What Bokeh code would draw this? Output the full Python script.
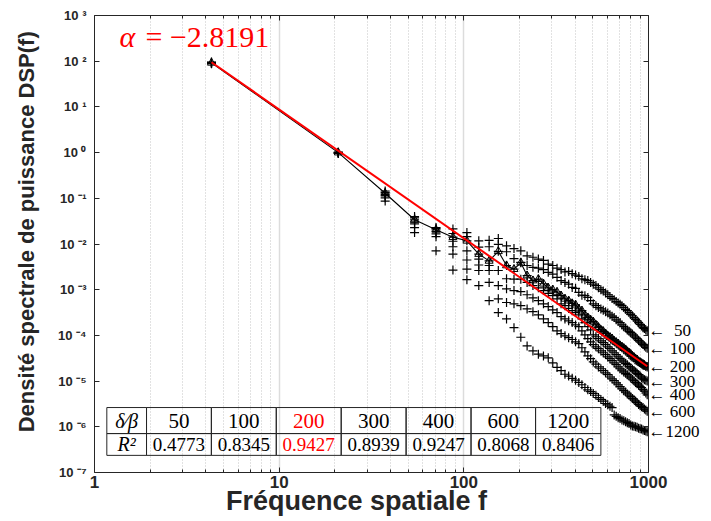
import math
from bokeh.plotting import figure
from bokeh.models import FixedTicker, CustomJSTickFormatter, LogAxis, Label, ColumnDataSource
from bokeh.core.properties import value
from bokeh.embed import file_html
from bokeh.resources import INLINE

# ---------------- data ----------------
FREQ = [4.3, 20.9, 37.5, 54.1, 70.7, 87.3, 103.9, 120.5, 137.1, 153.7,
        170.3, 186.9, 203.5, 220.1, 236.7, 253.3, 269.9, 286.5, 303.1, 319.7,
        336.3, 352.9, 369.5, 386.1, 402.7, 419.3, 435.9, 452.5, 469.1, 485.7,
        502.3, 518.9, 535.5, 552.1, 568.7, 585.3, 601.9, 618.5, 635.1, 651.7,
        668.3, 684.9, 701.5, 718.1, 734.7, 751.3, 767.9, 784.5, 801.1, 817.7,
        834.3, 850.9, 867.5, 884.1, 900.7, 917.3, 933.9, 950.5, 967.1, 983.7]

# log10 of the power spectral density, one list per delta/beta value
LOG_DSP_50 = [1.98, 0.01, -0.84, -1.40, -1.64, -1.67, -1.75, -1.93, -1.92, -1.88,
              -2.04, -2.10, -2.15, -2.26, -2.29, -2.33, -2.36, -2.44, -2.47, -2.53,
              -2.56, -2.61, -2.60, -2.65, -2.68, -2.71, -2.76, -2.78, -2.80, -2.84,
              -2.88, -2.91, -2.96, -3.00, -3.03, -3.07, -3.11, -3.15, -3.19, -3.22,
              -3.26, -3.29, -3.32, -3.35, -3.39, -3.43, -3.46, -3.50, -3.54, -3.57,
              -3.61, -3.65, -3.68, -3.72, -3.76, -3.79, -3.83, -3.85, -3.88, -3.90]
LOG_DSP_100 = [1.975, 0.005, -0.87, -1.43, -1.66, -1.77, -1.84, -2.07, -2.06, -2.01,
               -2.17, -2.32, -2.40, -2.47, -2.51, -2.53, -2.56, -2.62, -2.66, -2.73,
               -2.80, -2.84, -2.88, -2.95, -2.97, -3.06, -3.12, -3.13, -3.17, -3.24,
               -3.31, -3.35, -3.39, -3.42, -3.45, -3.48, -3.51, -3.55, -3.58, -3.61,
               -3.66, -3.69, -3.72, -3.77, -3.81, -3.84, -3.88, -3.91, -3.94, -3.97,
               -4.01, -4.04, -4.07, -4.11, -4.14, -4.17, -4.20, -4.23, -4.26, -4.28]
LOG_DSP_200 = [1.964, 0.0, -0.89, -1.47, -1.69, -1.85, -1.93, -2.22, -2.37, -2.16,
               -2.47, -2.55, -2.41, -2.69, -2.80, -2.77, -2.87, -2.96, -3.00, -3.05,
               -3.13, -3.20, -3.24, -3.30, -3.33, -3.42, -3.46, -3.55, -3.61, -3.66,
               -3.70, -3.77, -3.82, -3.88, -3.91, -3.96, -4.01, -4.04, -4.07, -4.12,
               -4.15, -4.18, -4.22, -4.25, -4.28, -4.31, -4.35, -4.38, -4.41, -4.45,
               -4.48, -4.51, -4.53, -4.57, -4.59, -4.61, -4.63, -4.65, -4.68, -4.69]
LOG_DSP_300 = [1.96, -0.005, -0.92, -1.52, -1.73, -1.94, -2.15, -2.33, -2.47, -2.58,
               -2.76, -2.77, -2.77, -2.84, -2.91, -2.96, -3.02, -3.08, -3.13, -3.20,
               -3.31, -3.35, -3.41, -3.46, -3.50, -3.55, -3.64, -3.72, -3.81, -3.88,
               -3.99, -4.03, -4.07, -4.12, -4.16, -4.20, -4.25, -4.29, -4.34, -4.38,
               -4.42, -4.47, -4.51, -4.54, -4.58, -4.61, -4.64, -4.68, -4.71, -4.74,
               -4.77, -4.80, -4.83, -4.86, -4.89, -4.93, -4.95, -4.97, -4.98, -5.00]
LOG_DSP_400 = [1.955, -0.01, -0.95, -1.56, -1.78, -2.06, -2.35, -2.46, -2.58, -2.91,
               -2.98, -3.02, -3.04, -3.11, -3.18, -3.24, -3.31, -3.37, -3.44, -3.50,
               -3.59, -3.64, -3.68, -3.72, -3.77, -3.81, -3.90, -3.99, -4.07, -4.14,
               -4.20, -4.25, -4.29, -4.34, -4.38, -4.42, -4.47, -4.51, -4.55, -4.60,
               -4.64, -4.69, -4.73, -4.76, -4.80, -4.83, -4.86, -4.89, -4.93, -4.96,
               -4.99, -5.03, -5.06, -5.09, -5.12, -5.14, -5.18, -5.22, -5.26, -5.30]
LOG_DSP_600 = [1.95, -0.015, -0.99, -1.64, -1.84, -2.22, -2.55, -2.58, -2.84, -3.20,
               -3.28, -3.31, -3.35, -3.42, -3.48, -3.55, -3.64, -3.72, -3.81, -3.90,
               -3.96, -4.01, -4.05, -4.09, -4.14, -4.18, -4.27, -4.36, -4.45, -4.51,
               -4.58, -4.63, -4.69, -4.73, -4.77, -4.82, -4.86, -4.91, -4.95, -4.99,
               -5.04, -5.08, -5.12, -5.17, -5.21, -5.24, -5.28, -5.31, -5.34, -5.38,
               -5.41, -5.44, -5.47, -5.51, -5.54, -5.56, -5.58, -5.61, -5.63, -5.66]
LOG_DSP_1200 = [1.945, -0.02, -1.06, -1.75, -2.15, -2.57, -2.78, -2.91, -3.24, -3.50,
                -3.64, -3.83, -4.04, -4.23, -4.34, -4.41, -4.45, -4.49, -4.60, -4.70,
                -4.77, -4.85, -4.89, -4.94, -4.98, -5.03, -5.08, -5.14, -5.19, -5.23,
                -5.27, -5.31, -5.36, -5.40, -5.44, -5.49, -5.52, -5.55, -5.58, -5.74,
                -5.77, -5.80, -5.82, -5.85, -5.87, -5.89, -5.91, -5.93, -5.96, -5.98,
                -5.99, -6.00, -6.01, -6.03, -6.04, -6.05, -6.07, -6.08, -6.09, -6.11]

SERIES_NAMES = ["50", "100", "200", "300", "400", "600", "1200"]
R2_VALUES = ["0.4773", "0.8345", "0.9427", "0.8939", "0.9247", "0.8068", "0.8406"]
FIT_SERIES = "200"
ALPHA = -2.8191
FIT_LOG_INTERCEPT = 3.763

X_TICKS = [1, 10, 100, 1000]
Y_TICK_EXPONENTS = [-7, -6, -5, -4, -3, -2, -1, 0, 1, 2, 3]

X_TITLE = "Fréquence spatiale f"
Y_TITLE = "Densité spectrale de puissance DSP(f)"

SERIES_LOGS = [LOG_DSP_50, LOG_DSP_100, LOG_DSP_200, LOG_DSP_300,
               LOG_DSP_400, LOG_DSP_600, LOG_DSP_1200]

# ---------------- style / layout ----------------
INK = "#262626"
SERIF = "Liberation Serif"
SANS = "Liberation Sans"
NBSP = "\u00a0"

p = figure(width=708, height=520,
           x_axis_type="log", y_axis_type="log",
           x_range=(1, 1000), y_range=(1e-7, 1e3),
           output_backend="svg", toolbar_location=None,
           min_border_left=94, min_border_right=60,
           min_border_top=15, min_border_bottom=48,
           background_fill_color="white", border_fill_color="white",
           outline_line_color=None)

minor_x = [m * 10 ** d for d in range(0, 3) for m in range(2, 10)]
xticker = FixedTicker(ticks=X_TICKS, minor_ticks=minor_x)
yticker = FixedTicker(ticks=[10.0 ** e for e in Y_TICK_EXPONENTS], minor_ticks=[])

def style_axis(ax, ticker, label_size, standoff):
    ax.ticker = ticker
    ax.axis_line_color = INK
    ax.axis_line_width = 1
    ax.major_tick_line_color = INK
    ax.minor_tick_line_color = INK
    ax.major_tick_in = 5
    ax.major_tick_out = 0
    ax.minor_tick_in = 3
    ax.minor_tick_out = 0
    ax.major_label_text_font = SANS
    ax.major_label_text_font_style = "bold"
    ax.major_label_text_font_size = label_size
    ax.major_label_text_color = INK
    ax.major_label_standoff = standoff

xa = p.xaxis[0]
style_axis(xa, xticker, "17px", 3)
xa.formatter = CustomJSTickFormatter(code="return tick.toFixed(0);")
xa.axis_label = X_TITLE + NBSP * 4
xa.axis_label_text_font = SANS
xa.axis_label_text_font_style = "bold"
xa.axis_label_text_font_size = "27px"
xa.axis_label_text_color = INK
xa.axis_label_standoff = -5

ya = p.yaxis[0]
style_axis(ya, yticker, "13px", 8)
ya.formatter = CustomJSTickFormatter(code="""
const e = Math.round(Math.log10(tick));
const sup = {'-': '\u207b', '0': '\u2070', '1': '\u00b9', '2': '\u00b2', '3': '\u00b3',
             '4': '\u2074', '5': '\u2075', '6': '\u2076', '7': '\u2077', '8': '\u2078', '9': '\u2079'};
return '10 ' + String(e).split('').map(c => sup[c]).join('');
""")
ya.axis_label = NBSP * 4 + Y_TITLE
ya.axis_label_text_font = SANS
ya.axis_label_text_font_style = "bold"
ya.axis_label_text_font_size = "22px"
ya.axis_label_text_color = INK
ya.axis_label_standoff = 16

top = LogAxis()
style_axis(top, xticker, "1px", 0)
top.formatter = CustomJSTickFormatter(code="return '';")
p.add_layout(top, "above")

right = LogAxis()
style_axis(right, yticker, "1px", 0)
right.formatter = CustomJSTickFormatter(code="return '';")
p.add_layout(right, "right")

# right-hand series labels, placed at the last value of each series
end_logs = [logs[-1] for logs in SERIES_LOGS]
end_labels = ["\u2190" + NBSP * (4 - len(n)) + n for n in SERIES_NAMES]
name_axis = LogAxis(ticker=FixedTicker(ticks=[10 ** v for v in end_logs], minor_ticks=[]))
name_axis.formatter = CustomJSTickFormatter(args=dict(ends=end_logs, labels=end_labels), code="""
const lt = Math.log10(tick);
for (let i = 0; i < ends.length; i++) {
    if (Math.abs(lt - ends[i]) < 1e-6) { return labels[i]; }
}
return '';
""")
name_axis.axis_line_color = None
name_axis.major_tick_line_color = None
name_axis.minor_tick_line_color = None
name_axis.major_tick_in = 0
name_axis.major_tick_out = 0
name_axis.major_label_standoff = 0
name_axis.major_label_text_font = SERIF
name_axis.major_label_text_font_size = "17px"
name_axis.major_label_text_color = "black"
p.add_layout(name_axis, "right")

p.xgrid.ticker = xticker
p.xgrid.grid_line_color = "#dcdcdc"
p.xgrid.grid_line_width = 1.5
p.xgrid.minor_grid_line_color = "#c4c4c4"
p.xgrid.minor_grid_line_dash = "1 2"
p.ygrid.visible = False

# ---------------- data marks ----------------
for name, logs in zip(SERIES_NAMES, SERIES_LOGS):
    p.scatter(FREQ, [10 ** v for v in logs], marker="cross", size=9,
              line_color="black", line_width=1.2)

fit_logs = SERIES_LOGS[SERIES_NAMES.index(FIT_SERIES)]
fit_vals = [10 ** v for v in fit_logs]
p.line(FREQ, fit_vals, line_color="black", line_width=1.1)
p.scatter(FREQ, fit_vals, marker="triangle", size=8, fill_color=None,
          line_color="black", line_width=1)

fit_x = [FREQ[0], FREQ[-1]]
fit_y = [10 ** (FIT_LOG_INTERCEPT + ALPHA * math.log10(f)) for f in fit_x]
p.line(fit_x, fit_y, line_color="#ff0000", line_width=2)

# ---------------- annotations inside the frame ----------------
ALPHA_LABEL_Y = 352
p.add_layout(Label(x=1.366, y=ALPHA_LABEL_Y, text="α", text_color="#ff0000",
                   text_font=SERIF, text_font_style="italic",
                   text_font_size="30px", text_baseline="alphabetic"))
p.add_layout(Label(x=1.889, y=ALPHA_LABEL_Y, text="= −2.8191", text_color="#ff0000",
                   text_font=SERIF, text_font_size="30px",
                   text_baseline="alphabetic"))

# table of R^2 values
TABLE_X_EDGES = [1.166, 1.913, 4.294, 9.645, 21.67, 48.68, 109.4, 244.6, 552.3]
TABLE_Y_EDGES = [2.64e-6, 7.11e-7, 2.37e-7]

lefts, rights, tops, bottoms = [], [], [], []
for r in range(2):
    for c in range(8):
        lefts.append(TABLE_X_EDGES[c]); rights.append(TABLE_X_EDGES[c + 1])
        tops.append(TABLE_Y_EDGES[r]); bottoms.append(TABLE_Y_EDGES[r + 1])
p.quad(left=lefts, right=rights, top=tops, bottom=bottoms,
       fill_color=None, line_color=INK, line_width=1)

xc = [math.sqrt(TABLE_X_EDGES[c] * TABLE_X_EDGES[c + 1]) for c in range(8)]
yc = [math.sqrt(TABLE_Y_EDGES[r] * TABLE_Y_EDGES[r + 1]) for r in range(2)]

cell_src = ColumnDataSource(dict(
    x=xc[1:] + xc[1:],
    y=[yc[0]] * 7 + [yc[1]] * 7,
    text=SERIES_NAMES + R2_VALUES,
    color=["#ff0000" if n == FIT_SERIES else "black" for n in SERIES_NAMES] * 2,
    size=["21px"] * 7 + ["19px"] * 7,
))
p.text(x="x", y="y", text="text", source=cell_src, text_color="color",
       text_font=value(SERIF), text_font_size="size",
       text_align="center", text_baseline="middle")

p.text(x=[xc[0], xc[0]], y=yc, text=["δ⁄β", "R²"], text_color="black",
       text_font=value(SERIF), text_font_style="italic",
       text_font_size=value("20px"), text_align="center", text_baseline="middle")

open("out.html", "w").write(file_html(p, INLINE))
